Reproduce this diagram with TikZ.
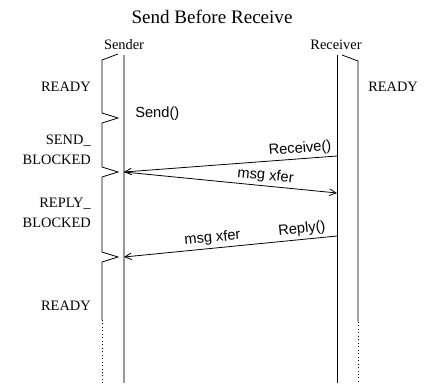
\documentclass[tikz,border=0pt]{standalone}
\usepackage{fontspec}
\setmainfont{Liberation Serif}
\setsansfont{Liberation Sans}
\usetikzlibrary{arrows.meta}
\begin{document}
\begin{tikzpicture}[x=0.75pt,y=-0.75pt,
  state/.style={font=\fontsize{10.8}{15}\selectfont, inner sep=0pt, align=right},
  call/.style={font=\sffamily\fontsize{11}{13}\selectfont, inner sep=2pt},
  actor/.style={font=\fontsize{10.8}{13}\selectfont, inner sep=0pt},
  bracket/.style={line width=0.6pt, line join=miter},
  msg/.style={line width=0.6pt, -{Straight Barb[length=5pt,width=5pt]}},
  life/.style={line width=1.4pt, draw=gray!80}]
\useasboundingbox (0,0) rectangle (424,383);

% title and actors
\node (title) at (212,17) {\fontsize{14.3}{17}\selectfont Send Before Receive};
\node[actor] (sender) at (124,45) {Sender};
\node[actor] (receiver) at (336,45) {Receiver};

% lifelines
\coordinate (sTop) at (124,55);
\coordinate (sBot) at (124,383);
\coordinate (rTop) at (337,55);
\coordinate (rBot) at (337,383);
\draw[life] (sTop) -- (sBot);
\draw[line width=0.7pt] (rTop) -- (rBot);

% sender state bracket
\coordinate (sb0) at (118,54);
\coordinate (sbEnd) at (102,320);
\coordinate (sbFoot) at (102,383);
\draw[bracket] (sb0) -- (102,60) -- (102,113) -- (118,118) -- (102,123)
  -- (102,167) -- (118,172) -- (102,177) -- (102,252) -- (118,257)
  -- (102,262) -- (sbEnd);
\draw[bracket, dotted] (sbEnd) -- (sbFoot);

% receiver state bracket
\coordinate (rb0) at (342,55);
\coordinate (rbEnd) at (358,322);
\coordinate (rbFoot) at (358,383);
\draw[bracket] (rb0) -- (358,61) -- (rbEnd);
\draw[bracket, dotted] (rbEnd) -- (rbFoot);

% state labels
\node[state, anchor=east] (ready1) at (91,87) {READY};
\node[state, anchor=east] (sendblk) at (91,150) {SEND\_\\BLOCKED};
\node[state, anchor=east] (replyblk) at (91,213) {REPLY\_\\BLOCKED};
\node[state, anchor=east] (ready2) at (91,306) {READY};
\node[state, anchor=west] (ready3) at (368,87) {READY};

% send call
\node[call, anchor=west, inner sep=0pt] (send) at (135,114) {Send()};

% message points
\coordinate (rRecv) at (337,156);
\coordinate (sRecv) at (124,172);
\coordinate (rXfer) at (337,193);
\coordinate (rReply) at (337,236);
\coordinate (sReply) at (124,257);

\draw[msg] (rRecv) -- node[call, sloped, above, pos=0.17] (recvlbl) {Receive()} (sRecv);
\draw[msg] (sRecv) -- node[call, sloped, above, pos=0.66] (xfer1) {msg xfer} (rXfer);
\draw[msg] (rReply) -- node[call, sloped, above, pos=0.16] (replylbl) {Reply()}
  node[call, sloped, above, pos=0.58] (xfer2) {msg xfer} (sReply);
\end{tikzpicture}
\end{document}
